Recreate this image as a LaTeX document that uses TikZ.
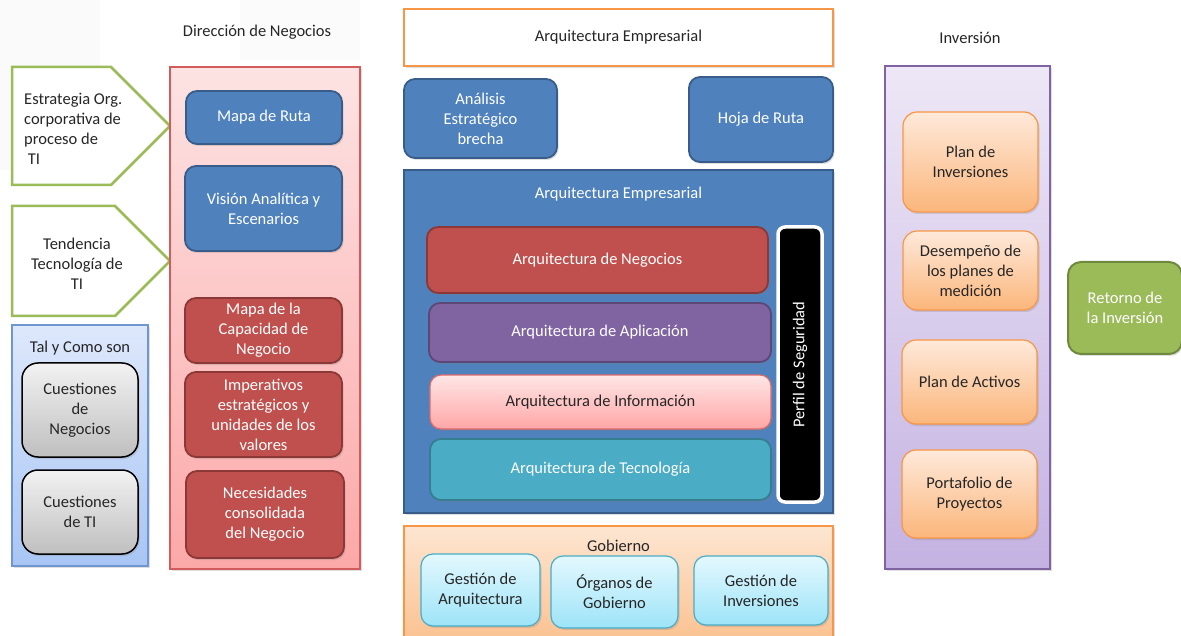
\documentclass[tikz,border=0pt]{standalone}
\usepackage{fontspec}
\setmainfont{Carlito}
\usetikzlibrary{shadows}
\definecolor{bfill}{HTML}{4F81BD}
\definecolor{bdraw}{HTML}{385D8A}
\definecolor{rfill}{HTML}{C0504D}
\definecolor{rdraw}{HTML}{8C3836}
\definecolor{pfill}{HTML}{8064A2}
\definecolor{pdraw}{HTML}{5C4776}
\definecolor{tfill}{HTML}{4BACC6}
\definecolor{tdraw}{HTML}{357D91}
\definecolor{gfill}{HTML}{9BBB59}
\definecolor{gdraw}{HTML}{71893F}
\definecolor{odraw}{HTML}{F79646}
\definecolor{txt}{HTML}{262626}
\definecolor{taltop}{HTML}{DDE8FB}
\definecolor{talbot}{HTML}{A8C5F4}
\definecolor{taldraw}{HTML}{6F96D0}
\definecolor{redtop}{HTML}{FDE3E3}
\definecolor{redbot}{HTML}{FCA8A8}
\definecolor{reddraw}{HTML}{D25B5B}
\definecolor{purtop}{HTML}{EDE7F6}
\definecolor{purbot}{HTML}{C4B2E2}
\definecolor{gobtop}{HTML}{FDE6D2}
\definecolor{gobbot}{HTML}{FBC08E}
\definecolor{inftop}{HTML}{FFE6E6}
\definecolor{infbot}{HTML}{FFA6A6}
\definecolor{infdraw}{HTML}{E06A6A}
\definecolor{cytop}{HTML}{E4F8FE}
\definecolor{cybot}{HTML}{9DE4F8}
\definecolor{ortop}{HTML}{FEE9DA}
\definecolor{orbot}{HTML}{FBB67B}
\definecolor{grtop}{HTML}{F2F2F2}
\definecolor{grbot}{HTML}{BFBFBF}
\begin{document}
\begin{tikzpicture}[x=1pt,y=-1pt,
  every node/.style={font=\fontsize{16.5}{20}\selectfont, align=center, inner sep=0pt, text=txt},
  shad/.style={drop shadow={opacity=0.25, shadow xshift=1.5pt, shadow yshift=-2pt}},
  bluebox/.style={shad, draw=bdraw, line width=1.8pt, fill=bfill, rounded corners=11pt, text=white},
  redbox/.style={shad, draw=rdraw, line width=1.8pt, fill=rfill, rounded corners=11pt, text=white},
  graybox/.style={shad, draw=black, line width=1.5pt, top color=grtop, bottom color=grbot, rounded corners=16pt},
  orbox/.style={shad, draw=odraw, line width=1.2pt, top color=ortop, bottom color=orbot, rounded corners=14pt},
  cybox/.style={shad, draw=tfill, line width=1.2pt, top color=cytop, bottom color=cybot, rounded corners=12pt},
  pent/.style={draw=gfill, line width=2.5pt, fill=white},
  lbl/.style={text=txt}]
\useasboundingbox (0,0) rectangle (1181,636);
\fill[white] (0,0) rectangle (1181,636);
% faint background
\fill[gray!4] (0,0) rectangle (100,170);
\fill[gray!3] (240,0) rectangle (360,60);
% ---------- left ----------
\node[lbl] (dirlbl) at (257,32) {Dirección de Negocios};
\draw[pent] (12,67) -- (111,67) -- (170,126) -- (111,185) -- (12,185) -- cycle;
\node[lbl, anchor=west, align=left] (estr) at (24,129) {Estrategia Org.\\corporativa de\\proceso de\\\ TI};
\draw[pent] (12,206) -- (115,206) -- (170,261) -- (115,316) -- (12,316) -- cycle;
\node[lbl] (tend) at (77,264) {Tendencia\\Tecnología de\\TI};
\node[shad, draw=taldraw, line width=1.2pt, top color=taltop, bottom color=talbot, minimum width=136pt, minimum height=241pt] (tal) at (80,445.5) {};
\node[lbl] (talt) at (80,348) {Tal y Como son};
\node[graybox, minimum width=116pt, minimum height=94pt] (cneg) at (80,410) {Cuestiones\\de\\Negocios};
\node[graybox, minimum width=116pt, minimum height=84pt] (cti) at (80,512) {Cuestiones\\de TI};
\node[shad, draw=reddraw, line width=1.2pt, top color=redtop, bottom color=redbot, minimum width=190pt, minimum height=502pt] (dir) at (265,318) {};
\node[bluebox, minimum width=156pt, minimum height=53pt] (mruta) at (264,117.5) {Mapa de Ruta};
\node[bluebox, minimum width=157pt, minimum height=85pt] (vision) at (263.5,208.5) {Visión Analítica y\\Escenarios};
\node[redbox, minimum width=157pt, minimum height=65pt] (mcap) at (263.5,330.5) {Mapa de la\\Capacidad de\\Negocio};
\node[redbox, minimum width=157pt, minimum height=85pt] (imp) at (263.5,414.5) {Imperativos\\estratégicos y\\unidades de los\\valores};
\node[redbox, minimum width=158pt, minimum height=87pt] (nec) at (265,514.5) {Necesidades\\consolidada\\del Negocio};
% ---------- middle ----------
\node[shad, draw=odraw, line width=2pt, fill=white, minimum width=429pt, minimum height=57pt] (topae) at (618.5,37.5) {Arquitectura Empresarial};
\node[bluebox, minimum width=153pt, minimum height=79pt] (anal) at (480.5,118.5) {Análisis\\Estratégico\\brecha};
\node[bluebox, minimum width=144pt, minimum height=85pt] (hoja) at (761,119.5) {Hoja de Ruta};
\node[shad, draw=bdraw, line width=1.8pt, fill=bfill, minimum width=429pt, minimum height=343pt] (aep) at (618.5,341.5) {};
\node[text=white] (aet) at (618.5,194) {Arquitectura Empresarial};
\node[redbox, minimum width=341pt, minimum height=66pt] (aneg) at (597.5,260) {Arquitectura de Negocios};
\node[shad, draw=pdraw, line width=1.8pt, fill=pfill, rounded corners=11pt, text=white, minimum width=342pt, minimum height=59pt] (aapl) at (600,332.5) {Arquitectura de Aplicación};
\node[shad, draw=infdraw, line width=1.2pt, top color=inftop, bottom color=infbot, rounded corners=11pt, minimum width=341pt, minimum height=54pt] (ainf) at (600.5,402) {Arquitectura de Información};
\node[shad, draw=tdraw, line width=1.8pt, fill=tfill, rounded corners=11pt, text=white, minimum width=341pt, minimum height=61pt] (atec) at (600.5,469.5) {Arquitectura de Tecnología};
\node[draw=white, line width=3.5pt, fill=black, rounded corners=7pt, minimum width=44pt, minimum height=275pt] (perf) at (800,364.5) {};
\node[text=white, rotate=90] (perft) at (perf.center) {Perfil de Seguridad};
\node[shad, draw=odraw, line width=1.2pt, top color=gobtop, bottom color=gobbot, minimum width=429pt, minimum height=120pt] (gob) at (618.5,586) {};
\node[lbl] (gobt) at (618.5,546) {Gobierno};
\node[cybox, minimum width=119pt, minimum height=72pt] (garq) at (480.5,590) {Gestión de\\Arquitectura};
\node[cybox, minimum width=127pt, minimum height=72pt] (org) at (614.5,592) {Órganos de\\Gobierno};
\node[cybox, minimum width=134pt, minimum height=69pt] (ginv) at (761,590.5) {Gestión de\\Inversiones};
% ---------- right ----------
\node[lbl] (invlbl) at (970,38) {Inversión};
\node[shad, draw=pfill, line width=1.2pt, top color=purtop, bottom color=purbot, minimum width=165pt, minimum height=503pt] (inv) at (967.5,317.5) {};
\node[orbox, minimum width=135pt, minimum height=100pt] (pinv) at (970.5,162) {Plan de\\Inversiones};
\node[orbox, minimum width=135pt, minimum height=79pt] (desem) at (970.5,270.5) {Desempeño de\\los planes de\\medición};
\node[orbox, minimum width=135pt, minimum height=84pt] (pact) at (969.5,382) {Plan de Activos};
\node[orbox, minimum width=135pt, minimum height=88pt] (port) at (969.5,494) {Portafolio de\\Proyectos};
\node[shad, draw=gdraw, line width=2pt, fill=gfill, rounded corners=13pt, text=white, minimum width=114pt, minimum height=92pt] (ret) at (1125,308) {Retorno de\\la Inversión};
\end{tikzpicture}
\end{document}
